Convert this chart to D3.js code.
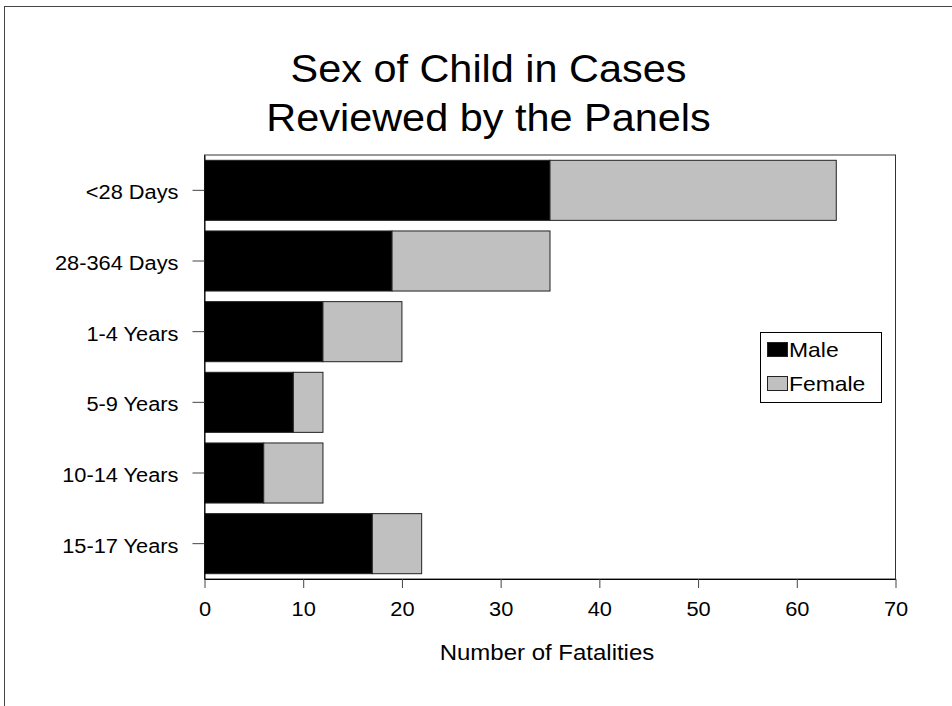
<!DOCTYPE html>
<html>
<head>
<meta charset="utf-8">
<script src="https://cdn.jsdelivr.net/npm/d3@7"></script>
<style>
  html, body { margin: 0; padding: 0; background: #fff; }
  svg { display: block; }
  text { font-family: "Liberation Sans", Arial, sans-serif; fill: #000; }
</style>
</head>
<body>
<svg id="chart" width="952" height="706"></svg>
<script>
const categories = ["<28 Days", "28-364 Days", "1-4 Years", "5-9 Years", "10-14 Years", "15-17 Years"];
const maleValues = [35, 19, 12, 9, 6, 17];
const femaleValues = [29, 16, 8, 3, 6, 5];
const seriesNames = ["Male", "Female"];
const seriesColors = ["#000000", "#C0C0C0"];
const xTicks = [0, 10, 20, 30, 40, 50, 60, 70];
const titleLines = ["Sex of Child in Cases", "Reviewed by the Panels"];
const xAxisTitle = "Number of Fatalities";

const STRETCH = 1.09;
const svg = d3.select("#chart");

// outer frame
svg.append("rect").attr("x", 4.5).attr("y", 6.5).attr("width", 1000).attr("height", 800)
  .attr("fill", "none").attr("stroke", "#444").attr("stroke-width", 1);

const plot = { left: 204.5, right: 895.5, top: 155, bottom: 579 };

const x = d3.scaleLinear().domain([0, 70]).range([plot.left, plot.right]);
const y = d3.scaleBand().domain(categories).range([plot.top, plot.bottom])
  .paddingInner(0.15).paddingOuter(0.075);

// plot frame
svg.append("rect").attr("x", plot.left).attr("y", plot.top)
  .attr("width", plot.right - plot.left).attr("height", plot.bottom - plot.top)
  .attr("fill", "#fff").attr("stroke", "#333").attr("stroke-width", 1);

const stacked = categories.map((c, i) => ({ cat: c, segs: [
  { s: 0, x0: 0, x1: maleValues[i] },
  { s: 1, x0: maleValues[i], x1: maleValues[i] + femaleValues[i] }
]}));

const g = svg.append("g");
stacked.forEach(d => {
  g.selectAll(null).data(d.segs).enter().append("rect")
    .attr("x", s => x(s.x0))
    .attr("y", y(d.cat))
    .attr("width", s => x(s.x1) - x(s.x0))
    .attr("height", y.bandwidth())
    .attr("fill", s => seriesColors[s.s])
    .attr("stroke", "#222").attr("stroke-width", 1);
});

// x axis
const xAxis = d3.axisBottom(x).tickValues(xTicks).tickSize(9).tickSizeOuter(0).tickPadding(14).tickFormat(d3.format("d"));
const xg = svg.append("g").attr("transform", `translate(0,${plot.bottom})`).call(xAxis);
xg.select(".domain").attr("stroke", "#000");
xg.selectAll(".tick line").attr("stroke", "#444");
xg.selectAll("text").attr("font-size", 20).attr("font-family", "Liberation Sans, Arial, sans-serif");

// y axis
const yAxis = d3.axisLeft(y).tickSize(12).tickSizeOuter(0).tickPadding(14);
const yg = svg.append("g").attr("transform", `translate(${plot.left},0)`).call(yAxis);
yg.select(".domain").attr("stroke", "#000");
yg.selectAll(".tick line").attr("stroke", "#444");
yg.selectAll("text").attr("font-size", 20).attr("dy", "0.45em").attr("font-family", "Liberation Sans, Arial, sans-serif");

// title
svg.append("text").attr("x", 488.5).attr("y", 82).attr("text-anchor", "middle")
  .attr("font-size", 38).text(titleLines[0]);
svg.append("text").attr("x", 488.5).attr("y", 131).attr("text-anchor", "middle")
  .attr("font-size", 38).text(titleLines[1]);

// x axis title
svg.append("text").attr("x", 547).attr("y", 660).attr("text-anchor", "middle")
  .attr("font-size", 22).text(xAxisTitle);

// legend
const lg = svg.append("g");
lg.append("rect").attr("x", 760.5).attr("y", 332.5).attr("width", 121).attr("height", 70)
  .attr("fill", "#fff").attr("stroke", "#000").attr("stroke-width", 1);
const legendRows = [357, 391];
seriesNames.forEach((n, i) => {
  lg.append("rect").attr("x", 767.5).attr("y", legendRows[i] - 14.5).attr("width", 20).attr("height", 14)
    .attr("fill", seriesColors[i]).attr("stroke", "#222").attr("stroke-width", 1);
  lg.append("text").attr("x", 789).attr("y", legendRows[i]).attr("font-size", 21).text(n);
});

// horizontal stretch of text to match the reference rendering
svg.selectAll("text").each(function() {
  const len = this.getComputedTextLength();
  if (len > 0) {
    d3.select(this).attr("textLength", len * STRETCH).attr("lengthAdjust", "spacingAndGlyphs");
  }
});
</script>
</body>
</html>
